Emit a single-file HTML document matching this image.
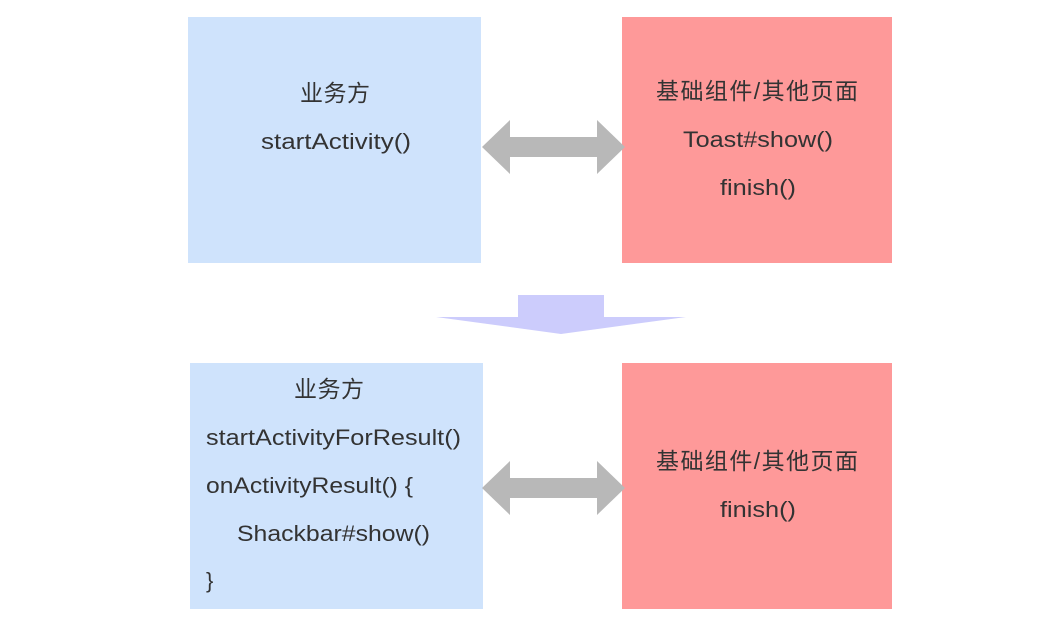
<!DOCTYPE html>
<html><head><meta charset="utf-8"><style>html,body{margin:0;padding:0;background:#fff}</style></head>
<body>
<svg width="1043" height="626" viewBox="0 0 1043 626" xmlns="http://www.w3.org/2000/svg" style="display:block">
<rect x="188" y="17" width="293" height="246" fill="#cfe3fc"/>
<rect x="622" y="17" width="270" height="246" fill="#fe9999"/>
<rect x="190" y="363" width="293" height="246" fill="#cfe3fc"/>
<rect x="622" y="363" width="270" height="246" fill="#fe9999"/>
<polygon points="482,147 510,120 510,137 597,137 597,120 625,147 597,174 597,157 510,157 510,174" fill="#b8b8b8"/>
<polygon points="482,488 510,461 510,478 597,478 597,461 625,488 597,515 597,498 510,498 510,515" fill="#b8b8b8"/>
<polygon points="518,295 604,295 604,317 686,317 561,334 436,317 518,317" fill="#ccccfc"/>
<g font-family="Liberation Sans, Noto Sans CJK SC, sans-serif" font-size="22" fill="#333" lengthAdjust="spacingAndGlyphs">
<text x="300" y="101" textLength="70" font-size="23">业务方</text>
<text x="261" y="149" textLength="150" lengthAdjust="spacingAndGlyphs">startActivity()</text>
<text x="656" y="99" textLength="202" font-size="23">基础组件/其他页面</text>
<text x="683" y="147" textLength="150" lengthAdjust="spacingAndGlyphs">Toast#show()</text>
<text x="720" y="195" textLength="76" lengthAdjust="spacingAndGlyphs">finish()</text>
<text x="294" y="397" textLength="70" font-size="23">业务方</text>
<text x="206" y="445" textLength="255" lengthAdjust="spacingAndGlyphs">startActivityForResult()</text>
<text x="206" y="493" textLength="207" lengthAdjust="spacingAndGlyphs">onActivityResult() {</text>
<text x="237" y="541" textLength="193" lengthAdjust="spacingAndGlyphs">Shackbar#show()</text>
<text x="206" y="588">}</text>
<text x="656" y="469" textLength="202" font-size="23">基础组件/其他页面</text>
<text x="720" y="517" textLength="76" lengthAdjust="spacingAndGlyphs">finish()</text>
</g>
</svg>
</body></html>
